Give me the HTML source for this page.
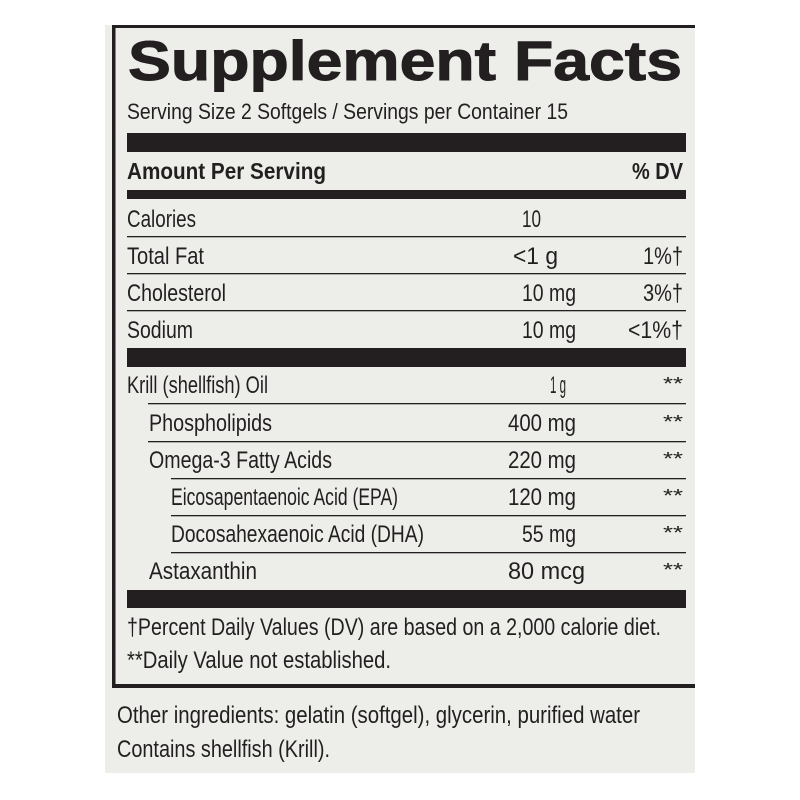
<!DOCTYPE html>
<html><head><meta charset="utf-8"><style>
html,body{margin:0;padding:0;background:#fff;}
svg{display:block;}
text{font-family:"Liberation Sans",sans-serif;fill:#231f20;}
.b{font-weight:bold;}
</style></head><body>
<svg width="800" height="800" viewBox="0 0 800 800" xmlns="http://www.w3.org/2000/svg">
<rect x="0" y="0" width="800" height="800" fill="#fff"/>
<rect x="105" y="25" width="590" height="748" fill="#ededea"/>
<rect x="112" y="25" width="583" height="3" fill="#231f20"/>
<rect x="112" y="25" width="3.5" height="663" fill="#231f20"/>
<rect x="112" y="684" width="583" height="4" fill="#231f20"/>
<text class="b" x="128" y="80" font-size="56" stroke="#231f20" stroke-width="1" textLength="554" lengthAdjust="spacingAndGlyphs">Supplement Facts</text>
<text x="127" y="119" font-size="22" textLength="441" lengthAdjust="spacingAndGlyphs">Serving Size 2 Softgels / Servings per Container 15</text>
<rect x="127" y="133" width="559" height="19" fill="#231f20"/>
<text class="b" x="127" y="179" font-size="23" textLength="199" lengthAdjust="spacingAndGlyphs">Amount Per Serving</text>
<text class="b" x="632" y="179" font-size="23" textLength="51" lengthAdjust="spacingAndGlyphs">% DV</text>
<rect x="127" y="190" width="559" height="9" fill="#231f20"/>
<g font-size="24">
<text x="127" y="227" textLength="69" lengthAdjust="spacingAndGlyphs">Calories</text>
<text x="522" y="227" textLength="19" lengthAdjust="spacingAndGlyphs">10</text>
<rect x="127" y="236" width="559" height="1.3" fill="#231f20"/>
<text x="127" y="264" textLength="77" lengthAdjust="spacingAndGlyphs">Total Fat</text>
<text x="513" y="264" textLength="45" lengthAdjust="spacingAndGlyphs">&lt;1 g</text>
<text x="643" y="264" textLength="40" lengthAdjust="spacingAndGlyphs">1%†</text>
<rect x="127" y="273" width="559" height="1.3" fill="#231f20"/>
<text x="127" y="301" textLength="99" lengthAdjust="spacingAndGlyphs">Cholesterol</text>
<text x="522" y="301" textLength="54" lengthAdjust="spacingAndGlyphs">10 mg</text>
<text x="643" y="301" textLength="40" lengthAdjust="spacingAndGlyphs">3%†</text>
<rect x="127" y="310" width="559" height="1.3" fill="#231f20"/>
<text x="127" y="338" textLength="66" lengthAdjust="spacingAndGlyphs">Sodium</text>
<text x="522" y="338" textLength="54" lengthAdjust="spacingAndGlyphs">10 mg</text>
<text x="628" y="338" textLength="55" lengthAdjust="spacingAndGlyphs">&lt;1%†</text>
</g>
<rect x="127" y="348" width="559" height="19" fill="#231f20"/>
<g font-size="24">
<text x="127" y="393" textLength="141" lengthAdjust="spacingAndGlyphs">Krill (shellfish) Oil</text>
<text x="550" y="393" textLength="16" lengthAdjust="spacingAndGlyphs">1 g</text>
<text x="663" y="390" font-size="18" textLength="20" lengthAdjust="spacingAndGlyphs">**</text>
<rect x="148" y="403" width="538" height="1.3" fill="#231f20"/>
<text x="149" y="431" textLength="123" lengthAdjust="spacingAndGlyphs">Phospholipids</text>
<text x="508" y="431" textLength="68" lengthAdjust="spacingAndGlyphs">400 mg</text>
<text x="663" y="428" font-size="18" textLength="20" lengthAdjust="spacingAndGlyphs">**</text>
<rect x="148" y="441" width="538" height="1.3" fill="#231f20"/>
<text x="149" y="468" textLength="183" lengthAdjust="spacingAndGlyphs">Omega-3 Fatty Acids</text>
<text x="508" y="468" textLength="68" lengthAdjust="spacingAndGlyphs">220 mg</text>
<text x="663" y="465" font-size="18" textLength="20" lengthAdjust="spacingAndGlyphs">**</text>
<rect x="171" y="478" width="515" height="1.3" fill="#231f20"/>
<text x="171" y="505" textLength="227" lengthAdjust="spacingAndGlyphs">Eicosapentaenoic Acid (EPA)</text>
<text x="508" y="505" textLength="68" lengthAdjust="spacingAndGlyphs">120 mg</text>
<text x="663" y="502" font-size="18" textLength="20" lengthAdjust="spacingAndGlyphs">**</text>
<rect x="171" y="515" width="515" height="1.3" fill="#231f20"/>
<text x="171" y="542" textLength="253" lengthAdjust="spacingAndGlyphs">Docosahexaenoic Acid (DHA)</text>
<text x="522" y="542" textLength="54" lengthAdjust="spacingAndGlyphs">55 mg</text>
<text x="663" y="539" font-size="18" textLength="20" lengthAdjust="spacingAndGlyphs">**</text>
<rect x="171" y="552" width="515" height="1.3" fill="#231f20"/>
<text x="149" y="579" textLength="108" lengthAdjust="spacingAndGlyphs">Astaxanthin</text>
<text x="508" y="579" textLength="77" lengthAdjust="spacingAndGlyphs">80 mcg</text>
<text x="663" y="576" font-size="18" textLength="20" lengthAdjust="spacingAndGlyphs">**</text>
</g>
<rect x="127" y="590" width="559" height="18" fill="#231f20"/>
<g font-size="24">
<text x="127" y="635" textLength="534" lengthAdjust="spacingAndGlyphs">†Percent Daily Values (DV) are based on a 2,000 calorie diet.</text>
<text x="127" y="668" textLength="264" lengthAdjust="spacingAndGlyphs">**Daily Value not established.</text>
<text x="117" y="723" textLength="523" lengthAdjust="spacingAndGlyphs">Other ingredients: gelatin (softgel), glycerin, purified water</text>
<text x="117" y="757" textLength="213" lengthAdjust="spacingAndGlyphs">Contains shellfish (Krill).</text>
</g>
</svg>
</body></html>
